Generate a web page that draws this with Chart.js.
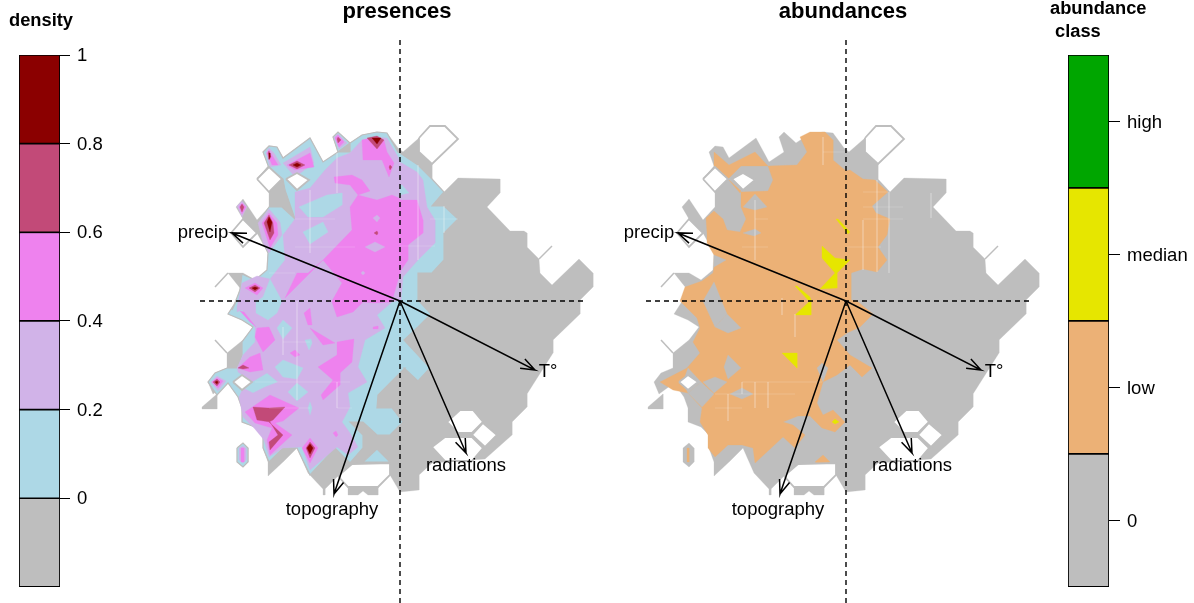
<!DOCTYPE html>
<html>
<head>
<meta charset="utf-8">
<title>presences / abundances</title>
<script src="https://cdn.jsdelivr.net/npm/chart.js@4"></script>
<style>
  html, body { margin: 0; padding: 0; background: #fff; overflow: hidden; }
  .box { position: absolute; top: 0; height: 603px; }
  #legendDensity { left: 0; width: 120px; height: 605px; }
  #mapPresences { left: 175px; width: 444px; }
  #mapAbundances { left: 621px; width: 444px; }
  #legendClass { left: 1040px; width: 154px; height: 605px; }
</style>
</head>
<body>
<div class="box" id="legendDensity"><canvas id="cDensity"></canvas></div>
<div class="box" id="mapPresences"><canvas id="cPresences"></canvas></div>
<div class="box" id="mapAbundances"><canvas id="cAbundances"></canvas></div>
<div class="box" id="legendClass"><canvas id="cClass"></canvas></div>
<script>
const FONT = '"Liberation Sans", Arial, sans-serif';

// colour keys
const densityBreaks = [-0.2, 0, 0.2, 0.4, 0.6, 0.8, 1];
const densityColors = ['#bebebe', '#add8e6', '#d1b3e8', '#ee82ee', '#c24a78', '#8b0000'];
const classLabels = ['high', 'median', 'low', '0'];
const classHeights = [1, 1, 1, 1];
const classColors = ['#00a600', '#e6e600', '#ecb176', '#bebebe'];

// ordination variables: arrow tips and where their names sit
const varNames = ['precip', 'T°', 'radiations', 'topography'];
const varTips = [[-168, 68], [135, -69], [66, -152], [-66, -193]];
const varLabelPos = [[-197, 68], [148, -71], [66, -165], [-68, -209]];

// sampled environment, same for both panels
const maskMain = [[-163,1],[-160,13],[-172,28],[-157,28],[-145,21],[-133,31],[-132,48],[-143,68],[-157,82],[-164,94],[-157,102],[-143,81],[-131,94],[-131,109],[-143,122],[-132,135],[-137,149],[-131,155],[-123,154],[-117,143],[-90,163],[-77,139],[-62,149],[-67,164],[-62,169],[-50,158],[-38,166],[-23,169],[-13,168],[-2,153],[3,149],[19,163],[19,149],[32,137],[32,122],[44,109],[58,123],[100,122],[100,108],[87,94],[110,70],[124,70],[127,68],[127,54],[139,42],[140,28],[152,16],[179,42],[193,28],[193,14],[180,1],[180,-13],[153,-39],[153,-52],[127,-93],[127,-106],[112,-121],[112,-134],[85,-158],[32,-162],[19,-174],[19,-189],[0,-191],[-10,-174],[-22,-186],[-22,-194],[-32,-194],[-37,-190],[-42,-194],[-52,-194],[-52,-186],[-62,-175],[-75,-188],[-75,-194],[-77,-194],[-77,-188],[-92,-172],[-103,-147],[-117,-161],[-132,-175],[-132,-161],[-137,-147],[-137,-134],[-145,-126],[-158,-121],[-158,-107],[-162,-96],[-172,-82],[-187,-93],[-192,-81],[-185,-72],[-173,-67],[-173,-52],[-157,-39],[-147,-26],[-158,-19],[-172,-13]];
const maskBits = [[[-198,-106],[-183,-93],[-183,-108],[-198,-108]], [[-163,-147],[-157,-142],[-152,-147],[-152,-161],[-157,-166],[-163,-161]]];
const maskHoles = [
  [[-169,68],[-157,82],[-143,68],[-157,54]],
  [[-143,122],[-131,134],[-118,122],[-131,109]],
  [[-114,122],[-103,128],[-91,121],[-103,111]],
  [[19,163],[30,175],[45,175],[58,162],[32,137],[19,149]],
  [[-167,-81],[-158,-74],[-148,-81],[-158,-89]],
  [[47,-121],[60,-109],[73,-109],[83,-121],[72,-132],[58,-132]],
  [[72,-134],[83,-122],[97,-134],[85,-146]],
  [[32,-146],[45,-136],[72,-136],[83,-147],[72,-160],[45,-160]],
  [[-62,-175],[-48,-163],[-10,-162],[-10,-174],[-22,-186],[-52,-186]]
];
const maskHairs = [[[-185,14],[-172,28]], [[-185,-39],[-173,-52]], [[139,42],[152,55]]];

// presences: density classes
const blueZones = [
  [[-168,-9],[-160,11],[-158,27],[-145,21],[-133,31],[-132,48],[-137,59],[-142,78],[-131,94],[-118,94],[-105,82],[-115,111],[-117,122],[-131,133],[-137,149],[-131,155],[-123,154],[-117,143],[-90,163],[-77,139],[-62,149],[-67,164],[-62,169],[-50,158],[-62,149],[-50,149],[-50,158],[-38,166],[-23,169],[-13,168],[-2,149],[0,148],[18,136],[32,122],[44,109],[32,95],[44,95],[58,82],[44,68],[44,41],[32,28],[18,28],[18,1],[31,-13],[18,-26],[4,-39],[18,-54],[30,-67],[18,-80],[4,-67],[5,-67],[-22,-94],[-23,-107],[-8,-107],[3,-121],[-10,-134],[-23,-134],[-37,-121],[-50,-121],[-37,-134],[-37,-147],[-50,-162],[-65,-147],[-90,-174],[-103,-147],[-117,-147],[-131,-161],[-137,-147],[-137,-134],[-145,-126],[-158,-121],[-158,-107],[-162,-96],[-172,-82],[-183,-94],[-192,-81],[-185,-72],[-173,-67],[-163,-67],[-158,-54],[-158,-41],[-147,-26],[-158,-19],[-172,-13],[-163,1]],
  [[-37,-161],[-23,-148],[-10,-161]],
  [[-163,-147],[-157,-142],[-152,-147],[-152,-161],[-157,-166],[-163,-161]]
];
const lilacZones = [
  [[-131,-156],[-136,-139],[-146,-127],[-157,-116],[-161,-96],[-157,-87],[-147,-92],[-135,-86],[-122,-81],[-133,-72],[-148,-81],[-162,-71],[-163,-67],[-157,-54],[-145,-41],[-145,-26],[-158,-9],[-163,-11],[-163,-6],[-158,18],[-143,25],[-130,22],[-115,41],[-117,66],[-105,82],[-105,109],[-90,113],[-75,131],[-63,143],[-50,148],[-38,161],[-25,164],[-13,163],[-2,144],[0,139],[17,129],[23,121],[27,94],[35,81],[35,58],[18,41],[3,24],[1,1],[-8,-1],[-23,-14],[-15,-27],[-35,-39],[-42,-66],[-33,-81],[-52,-92],[-50,-106],[-58,-121],[-50,-132],[-42,-146],[-52,-154],[-63,-146],[-90,-169],[-98,-146],[-117,-147]],
  [[-134,148],[-131,153],[-126,148],[-119,136],[-130,134]],
  [[-117,138],[-90,154],[-86,138],[-105,124]],
  [[-163,95],[-158,100],[-153,94],[-158,84]],
  [[-142,78],[-131,92],[-120,79],[-118,66],[-131,48],[-137,58]],
  [[-66,164],[-62,167],[-53,158],[-61,152]],
  [[-189,-81],[-183,-75],[-174,-80],[-182,-90]],
  [[-161,-147],[-157,-145],[-154,-147],[-154,-159],[-157,-162],[-161,-159]]
];
const blueInLilac = [
  [[-130,22],[-118,0],[-123,-12],[-132,-19],[-144,-12],[-144,-1],[-137,4]],
  [[-123,-27],[-117,-19],[-108,-27],[-117,-38]],
  [[-125,-66],[-117,-59],[-97,-67],[-103,-78],[-117,-76]],
  [[-112,-91],[-103,-82],[-92,-91],[-103,-100]],
  [[-90,-101],[-88,-107],[-90,-114],[-92,-107]],
  [[-95,-39],[-89,-38],[-88,-42],[-91,-49]],
  [[-101,94],[-73,106],[-58,108],[-58,96],[-77,84],[-92,84]],
  [[-97,69],[-77,79],[-72,69],[-90,57]],
  [[0,116],[2,116],[9,108],[0,106]]
];
const pinkZones = [
  [[-68,0],[-58,18],[-77,41],[-48,71],[-50,94],[-42,106],[-23,101],[-8,106],[-1,103],[0,101],[17,101],[23,81],[23,68],[8,56],[8,41],[1,31],[-8,0],[-10,-1],[-25,-2],[-37,-1],[-47,-11],[-63,-16],[-68,-1]],
  [[-66,124],[-48,126],[-38,121],[-30,110],[-42,106],[-50,116],[-65,118]],
  [[-38,161],[-37,141],[-18,141],[-11,124],[-6,138],[-13,149],[-16,161],[-25,164]],
  [[-115,3],[-103,28],[-92,28],[-77,41]],
  [[-133,148],[-131,151],[-128,146],[-122,136],[-128,136]],
  [[-113,136],[-90,148],[-86,134],[-105,131]],
  [[-161,94],[-158,98],[-154,94],[-158,87]],
  [[-138,78],[-131,88],[-123,78],[-122,66],[-130,53]],
  [[-65,163],[-62,166],[-56,159],[-61,154]],
  [[-155,13],[-145,18],[-137,13],[-143,6]],
  [[-160,-10],[-156,-11],[-144,-26],[-150,-21]],
  [[-143,-27],[-131,-26],[-125,-39],[-137,-51],[-145,-36]],
  [[-162,-67],[-150,-56],[-140,-52],[-137,-69],[-150,-71]],
  [[-96,-12],[-90,-7],[-88,-24],[-92,-24]],
  [[-90,-27],[-65,-42],[-77,-44]],
  [[-110,-52],[-105,-49],[-100,-54],[-105,-56]],
  [[-82,-66],[-63,-54],[-63,-41],[-46,-38],[-48,-61],[-60,-72],[-60,-84],[-77,-99],[-79,-94],[-67,-79]],
  [[-155,-111],[-130,-94],[-101,-107],[-117,-120],[-125,-122],[-108,-134],[-130,-154],[-133,-139],[-128,-127],[-145,-122]],
  [[-90,-137],[-82,-147],[-90,-162],[-98,-147]],
  [[-67,-132],[-64,-130],[-62,-134],[-64,-136]],
  [[-27,-26],[-22,-25],[-22,-28],[-27,-28]],
  [[-188,-81],[-183,-77],[-177,-80],[-182,-87]],
  [[-159,-147],[-156,-147],[-156,-161],[-159,-161]]
];
const lilacInPink = [
  [[-27,83],[-23,86],[-20,83],[-23,79]],
  [[-35,54],[-25,59],[-15,54],[-25,49]],
  [[-39,28],[-37,30],[-35,28],[-37,26]]
];
const roseZones = [
  [[-33,163],[-23,165],[-16,161],[-23,152]],
  [[-11,134],[-10,136],[-8,134],[-10,131]],
  [[-26,68],[-23,70],[-22,68],[-23,66]],
  [[-132,148],[-131,150],[-129,144],[-131,141]],
  [[-111,136],[-103,140],[-95,136],[-103,132]],
  [[-160,94],[-158,97],[-156,94],[-158,89]],
  [[-136,78],[-131,86],[-127,78],[-126,68],[-130,61]],
  [[-63,162],[-62,164],[-59,161],[-62,158]],
  [[-151,13],[-145,16],[-140,13],[-145,9]],
  [[-162,-67],[-157,-64],[-151,-67],[-157,-68]],
  [[-147,-106],[-132,-107],[-115,-106],[-127,-119],[-131,-121],[-117,-134],[-130,-149],[-131,-141],[-122,-134],[-130,-121],[-143,-119]],
  [[-90,-141],[-85,-147],[-90,-157],[-94,-147]],
  [[-187,-81],[-183,-78],[-180,-81],[-183,-85]]
];
const redZones = [
  [[-28,163],[-19,163],[-23,157]],
  [[-131,148],[-130,148],[-130,144],[-131,142]],
  [[-107,136],[-103,138],[-99,136],[-103,134]],
  [[-133,79],[-131,84],[-128,79],[-130,69]],
  [[-148,13],[-145,14],[-142,13],[-145,11]],
  [[-90,-143],[-87,-147],[-90,-153],[-93,-147]],
  [[-185,-81],[-183,-80],[-182,-81],[-183,-83]]
];
// pale seams between the contour cells
const seamsPresences = [
  [[-90,111],[-90,48]], [[-131,28],[-105,28]], [[-105,54],[-45,54]], [[-63,148],[-63,108]],
  [[-105,82],[-65,82]], [[-103,0],[-103,-99]], [[-117,-41],[-90,-41]], [[-63,-81],[-63,-107]],
  [[-63,-107],[-48,-107]], [[-117,-26],[-117,-54]], [[18,136],[18,41]], [[0,55],[35,55]],
  [[44,95],[44,68]], [[30,82],[58,82]], [[-145,-81],[-50,-81]], [[-131,-107],[-90,-107]]
];

// abundances: low and median classes
const orangeZones = [
  [[-166,0],[-161,14],[-144,20],[-133,28],[-132,34],[-132,46],[-139,58],[-139,68],[-140,83],[-132,90],[-123,82],[-119,71],[-106,69],[-100,82],[-105,94],[-105,109],[-78,110],[-73,121],[-78,135],[-49,136],[-39,149],[-46,164],[-36,169],[-21,169],[-13,161],[-13,141],[0,130],[4,131],[17,122],[29,121],[42,109],[26,95],[30,88],[44,82],[41,66],[32,54],[41,41],[31,29],[17,32],[5,28],[5,1],[11,0],[27,-13],[14,-26],[1,-32],[-9,-39],[4,-54],[26,-67],[16,-76],[4,-64],[-9,-74],[-23,-81],[-29,-102],[-23,-114],[-13,-109],[-1,-121],[-11,-131],[-24,-127],[-36,-115],[-48,-115],[-63,-121],[-53,-124],[-41,-134],[-51,-147],[-63,-136],[-91,-162],[-93,-147],[-104,-144],[-118,-144],[-131,-156],[-138,-147],[-138,-134],[-146,-121],[-144,-107],[-158,-92],[-173,-89],[-186,-81],[-159,-67],[-146,-52],[-153,-41],[-146,-27],[-149,-17],[-163,-3]],
  [[-132,149],[-117,136],[-91,149],[-78,135],[-105,135],[-118,122],[-132,135]],
  [[-118,122],[-105,110],[-106,108]],
  [[-31,-161],[-23,-154],[-16,-161],[-23,-167]],
  [[-159,-147],[-157,-147],[-157,-161],[-159,-161]]
];
const greyInOrange = [
  [[-143,0],[-132,19],[-126,4],[-124,-1],[-119,-13],[-131,-26]],
  [[-131,-26],[-119,-13],[-105,-27],[-118,-32]],
  [[-122,-66],[-118,-54],[-105,-67],[-118,-78]],
  [[-143,-81],[-131,-76],[-119,-81],[-132,-92]],
  [[-158,-92],[-145,-81],[-132,-93],[-144,-106]],
  [[-163,-81],[-158,-67],[-145,-81],[-158,-92]],
  [[-116,-93],[-104,-87],[-93,-93],[-104,-98]],
  [[-29,-67],[-24,-62],[-18,-67],[-23,-81]],
  [[-103,94],[-91,107],[-79,94],[-91,91]],
  [[-103,68],[-91,72],[-85,68],[-92,65]],
  [[-132,46],[-120,41],[-132,34]]
];
const yellowZones = [
  [[-24,55],[-11,43],[4,41],[-9,28],[-9,13],[-26,12],[-11,28],[-24,43]],
  [[-51,15],[-49,15],[-36,4],[-35,1],[-38,1]],
  [[-51,-14],[-35,1],[-35,-14]],
  [[-10,82],[-8,82],[4,69],[2,67]],
  [[-64,-52],[-49,-52],[-49,-67]],
  [[-14,-121],[-11,-118],[-7,-121],[-11,-123]]
];
const seamsAbundances = [
  [[-104,54],[-78,54]], [[-91,101],[-91,41]], [[-91,82],[-78,82]], [[-23,164],[-23,136]],
  [[-23,149],[2,149]], [[-131,-93],[-51,-93]], [[-78,-81],[-78,-107]], [[-91,-81],[-91,-107]],
  [[-104,-81],[-104,-93]], [[-118,-93],[-118,-120]], [[-131,-107],[-104,-107]], [[-104,-81],[-24,-81]],
  [[-51,-13],[-51,-36]], [[-64,3],[-64,-14]], [[31,121],[31,29]], [[17,82],[57,82]],
  [[17,81],[17,31]], [[0,54],[35,54]], [[17,94],[57,94]], [[17,109],[42,109]],
  [[43,109],[43,28]], [[85,108],[85,83]]
];

const GREY = '#bebebe';

function toPoints(list) {
  return list.map(p => ({ x: p[0], y: p[1] }));
}

// closed polygon filled by the line element
function polygon(points, color, stroke, strokeWidth) {
  return {
    data: toPoints(points.concat([points[0]])),
    showLine: true,
    fill: 'shape',
    backgroundColor: color,
    borderColor: stroke || color,
    borderWidth: stroke ? (strokeWidth || 1.2) : 0.3,
    pointRadius: 0,
    tension: 0
  };
}

function path(points, color, width, dash) {
  return {
    data: toPoints(points),
    showLine: true,
    fill: false,
    borderColor: color,
    borderWidth: width,
    borderDash: dash || [],
    pointRadius: 0,
    tension: 0
  };
}

// open arrow head, 15 long
function arrowPath(tip) {
  const ang = Math.atan2(tip[1], tip[0]);
  const barb = a => [tip[0] - 15 * Math.cos(ang + a), tip[1] - 15 * Math.sin(ang + a)];
  return [[0, 0], tip, barb(0.36), tip, barb(-0.36)];
}

function layers(list) {
  const out = [];
  list.forEach(l => l[0].forEach(poly => out.push(polygon(poly, l[1], l[2]))));
  return out;
}

function overlays(seams) {
  const out = [];
  seams.forEach(s => out.push(path(s, 'rgba(255,255,255,0.17)', 1)));
  maskHairs.forEach(h => out.push(path(h, GREY, 1.5)));
  maskHoles.forEach(h => out.push(polygon(h, '#ffffff', GREY, 1.8)));
  out.push(path([[0, 261], [0, -302]], '#000', 1.4, [5, 4]));
  out.push(path([[-200, 0], [187, 0]], '#000', 1.4, [5, 4]));
  varTips.forEach(t => out.push(path(arrowPath(t), '#000', 1.5)));
  return out;
}

// names of the variables, placed through the scales
const varLabelsPlugin = {
  id: 'varLabels',
  afterDatasetsDraw(chart) {
    const ctx = chart.ctx;
    ctx.save();
    ctx.font = '18.5px ' + FONT;
    ctx.fillStyle = '#000';
    ctx.textAlign = 'center';
    ctx.textBaseline = 'middle';
    varNames.forEach((name, i) => {
      ctx.fillText(name, chart.scales.x.getPixelForValue(varLabelPos[i][0]), chart.scales.y.getPixelForValue(varLabelPos[i][1]));
    });
    ctx.restore();
  }
};

// colour bar heading, starts left of the bar so the title plugin can't place it
function keyHeading(lines, left, baselines) {
  return {
    id: 'keyHeading',
    afterDraw(chart) {
      const ctx = chart.ctx;
      ctx.save();
      ctx.font = 'bold 18.3px ' + FONT;
      ctx.fillStyle = '#000';
      lines.forEach((line, i) => ctx.fillText(line, left[i], baselines[i]));
      ctx.restore();
    }
  };
}

function mapChart(id, title, datasets) {
  datasets.forEach((d, i) => { d.order = -i; });
  new Chart(document.getElementById(id), {
    type: 'scatter',
    data: { datasets },
    plugins: [varLabelsPlugin],
    options: {
      responsive: true,
      maintainAspectRatio: false,
      animation: false,
      layout: { padding: 0 },
      plugins: {
        legend: { display: false },
        tooltip: { enabled: false },
        title: {
          display: true,
          text: title,
          color: '#000',
          font: { family: FONT, size: 22, weight: 'bold', lineHeight: 1 },
          padding: { top: 1, bottom: 5 }
        }
      },
      scales: {
        x: { display: false, min: -225, max: 219 },
        y: { display: false, min: -302, max: 273 }
      }
    }
  });
}

const baseMask = [[maskBits, GREY], [[maskMain], GREY]];

mapChart('cPresences', 'presences', layers(baseMask.concat([
  [blueZones, '#add8e6', GREY],
  [lilacZones, '#d1b3e8'],
  [blueInLilac, '#add8e6'],
  [pinkZones, '#ee82ee'],
  [lilacInPink, '#d1b3e8'],
  [roseZones, '#c24a78'],
  [redZones, '#8b0000']
])).concat(overlays(seamsPresences)));

mapChart('cAbundances', 'abundances', layers(baseMask.concat([
  [orangeZones, '#ecb176'],
  [greyInOrange, GREY],
  [yellowZones, '#e6e600']
])).concat(overlays(seamsAbundances)));

// density colour bar
new Chart(document.getElementById('cDensity'), {
  type: 'bar',
  data: {
    labels: ['density'],
    datasets: densityColors.map((c, i) => ({
      data: [[densityBreaks[i], densityBreaks[i + 1]]],
      backgroundColor: c,
      borderColor: '#000',
      borderWidth: 1.2,
      borderSkipped: false,
      barPercentage: 1,
      categoryPercentage: 1,
      grouped: false
    }))
  },
  plugins: [keyHeading(['density'], [9], [26])],
  options: {
    responsive: true,
    maintainAspectRatio: false,
    animation: false,
    layout: { autoPadding: false, padding: { left: 19, top: 55, bottom: 16 } },
    plugins: { legend: { display: false }, tooltip: { enabled: false } },
    scales: {
      x: { display: false },
      y: {
        position: 'right',
        min: -0.2,
        max: 1,
        afterBuildTicks: s => { s.ticks = s.ticks.filter(t => t.value > -0.1); },
        afterFit: s => { s.width = 60; },
        grid: { drawOnChartArea: false, color: '#000', tickLength: 10 },
        border: { display: false },
        ticks: {
          stepSize: 0.2,
          color: '#000',
          padding: 7,
          labelOffset: 1,
          font: { family: FONT, size: 18.5 },
          callback: v => String(Math.round(v * 10) / 10)
        }
      }
    }
  }
});

// abundance class colour bar
new Chart(document.getElementById('cClass'), {
  type: 'bar',
  data: {
    labels: classLabels,
    datasets: [{
      data: classHeights,
      backgroundColor: classColors,
      borderColor: '#000',
      borderWidth: 1.2,
      borderSkipped: false,
      barPercentage: 1,
      categoryPercentage: 1
    }]
  },
  plugins: [keyHeading(['abundance', 'class'], [10, 15], [14, 37])],
  options: {
    indexAxis: 'y',
    responsive: true,
    maintainAspectRatio: false,
    animation: false,
    layout: { autoPadding: false, padding: { left: 28, top: 55, bottom: 16 } },
    plugins: { legend: { display: false }, tooltip: { enabled: false } },
    scales: {
      x: { display: false, min: 0, max: 1 },
      y: {
        position: 'right',
        afterFit: s => { s.width = 85; },
        grid: { drawOnChartArea: false, color: '#000', tickLength: 11, offset: false },
        border: { display: false },
        ticks: { color: '#000', padding: 7, labelOffset: 1, font: { family: FONT, size: 18.5 } }
      }
    }
  }
});
</script>
</body>
</html>
